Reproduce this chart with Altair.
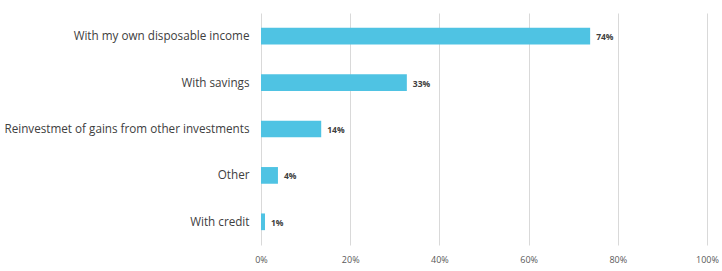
import altair as alt
import pandas as pd

categories = [
    "With my own disposable income",
    "With savings",
    "Reinvestmet of gains from other investments",
    "Other",
    "With credit",
]
values = [0.738, 0.327, 0.135, 0.038, 0.009]
labels = ["74%", "33%", "14%", "4%", "1%"]
x_ticks = [0, 0.2, 0.4, 0.6, 0.8, 1.0]

df = pd.DataFrame({"category": categories, "value": values, "label": labels})

base = alt.Chart(df)

y_enc = alt.Y(
    "category:N",
    sort=categories,
    title=None,
    scale=alt.Scale(paddingInner=0.64, paddingOuter=0.32),
    axis=alt.Axis(
        domain=False,
        ticks=False,
        grid=False,
        labelFont="Open Sans",
        labelFontSize=11.7,
        labelColor="#404040",
        labelPadding=12,
        labelLimit=300,
    ),
)

bars = base.mark_bar(color="#4FC3E3").encode(
    x=alt.X(
        "value:Q",
        title=None,
        scale=alt.Scale(domain=[0, 1]),
        axis=alt.Axis(
            values=x_ticks,
            format=".0%",
            domain=False,
            ticks=False,
            grid=True,
            gridColor="#D9D9D9",
            gridWidth=1,
            labelFlush=False,
            labelFont="Open Sans",
            labelFontSize=9,
            labelColor="#595959",
            labelPadding=10,
        ),
    ),
    y=y_enc,
)

text = base.mark_text(
    align="left",
    baseline="middle",
    dx=6,
    dy=1,
    font="Open Sans",
    fontSize=8.5,
    fontWeight="bold",
    color="#404040",
).encode(
    x="value:Q",
    y=alt.Y("category:N", sort=categories),
    text="label:N",
)

chart = (
    alt.layer(bars, text)
    .properties(
        width=446,
        height=232,
        background="white",
        autosize=alt.AutoSizeParams(type="none"),
        padding={"left": 261, "top": 13, "right": 15, "bottom": 26},
    )
    .configure_view(stroke="transparent", strokeWidth=0)
)

chart.save("out.html", embed_options={"renderer": "svg", "actions": False})
